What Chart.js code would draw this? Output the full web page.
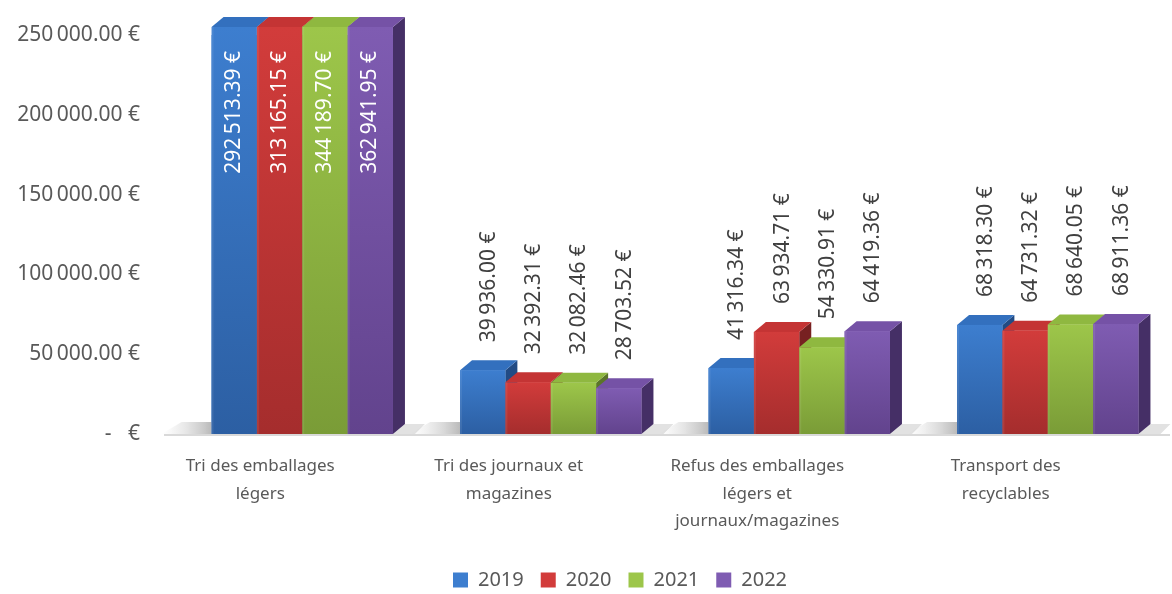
<!DOCTYPE html>
<html>
<head>
<meta charset="utf-8">
<script src="https://cdn.jsdelivr.net/npm/chart.js@4"></script>
<style>
html, body { margin: 0; background: #fff; }
#wrap { width: 1172px; height: 594px; }
</style>
</head>
<body>
<div id="wrap"><canvas id="c"></canvas></div>
<script>
const categories = [
	['Tri des emballages', 'légers'],
	['Tri des journaux et', 'magazines'],
	['Refus des emballages', 'légers et', 'journaux/magazines'],
	['Transport des', 'recyclables']
];
const years = ['2019', '2020', '2021', '2022'];
const v2019 = [292513.39, 39936.00, 41316.34, 68318.30];
const v2020 = [313165.15, 32392.31, 63934.71, 64731.32];
const v2021 = [344189.70, 32082.46, 54330.91, 68640.05];
const v2022 = [362941.95, 28703.52, 64419.36, 68911.36];
const yTicks = [0, 50000, 100000, 150000, 200000, 250000];

// front (top / bottom of gradient), top face, side face
const colors = [
	{ hi: '#3D7ECF', lo: '#2C5FA3', top: '#3370BE', side: '#224B84' },
	{ hi: '#D23C3B', lo: '#A52D2D', top: '#C43434', side: '#772121' },
	{ hi: '#9DC64A', lo: '#7A9C37', top: '#8FB840', side: '#5B7529' },
	{ hi: '#7F5CB2', lo: '#62438D', top: '#7552A6', side: '#452F66' }
];
const DX = 12, DY = 10;

function euro(v) {
	const parts = v.toFixed(2).split('.');
	return parts[0].replace(/\B(?=(\d{3})+(?!\d))/g, '\u202F') + '.' + parts[1] + ' €';
}

function poly(ctx, pts, fill) {
	ctx.beginPath();
	ctx.moveTo(pts[0][0], pts[0][1]);
	for (let k = 1; k < pts.length; k++) ctx.lineTo(pts[k][0], pts[k][1]);
	ctx.closePath();
	ctx.fillStyle = fill;
	ctx.fill();
}

const bars3d = {
	id: 'bars3d',
	afterLayout(chart) {
		// legend sits a bit right of the canvas centre in the original
		chart.legend.left += 34;
		chart.legend.right += 34;
	},
	beforeDatasetsDraw(chart) {
		const ctx = chart.ctx, area = chart.chartArea;
		const base = chart.scales.y.getPixelForValue(0);
		ctx.save();
		ctx.strokeStyle = '#D9D9D9';
		ctx.lineWidth = 2;
		ctx.beginPath();
		ctx.moveTo(area.left - 14, base + 1);
		ctx.lineTo(1170, base + 1);
		ctx.stroke();
		ctx.restore();
	},
	afterDatasetsDraw(chart) {
		const ctx = chart.ctx, area = chart.chartArea;
		const base = chart.scales.y.getPixelForValue(0);
		const n = chart.data.datasets.length;
		ctx.save();
		// floor shadows
		chart.getDatasetMeta(0).data.forEach((el, j) => {
			const last = chart.getDatasetMeta(n - 1).data[j];
			const x0 = el.x - el.width / 2;
			const x1 = last.x + last.width / 2 + DX;
			const g = ctx.createLinearGradient(x0 - 50, 0, x0, 0);
			g.addColorStop(0, 'rgba(200,200,200,0)');
			g.addColorStop(1, 'rgba(140,140,140,0.6)');
			poly(ctx, [[x0 - 50, base], [x0 - 30, base - 12], [x0, base - 12], [x0, base]], g);
			poly(ctx, [[x1 - DX, base], [x1, base - DY], [x1 + 20, base - DY], [x1 + 10, base]], 'rgba(190,190,190,0.45)');
		});
		chart.data.datasets.forEach((ds, i) => {
			const c = colors[i];
			chart.getDatasetMeta(i).data.forEach(el => {
				const x0 = el.x - el.width / 2, x1 = el.x + el.width / 2;
				const yt = Math.max(el.y, area.top - 8);
				poly(ctx, [[x1, base], [x1 + DX, base - DY], [x1 + DX, yt - DY], [x1, yt]], c.side);
				poly(ctx, [[x0, yt], [x0 + DX, yt - DY], [x1 + DX, yt - DY], [x1, yt]], c.top);
				const g = ctx.createLinearGradient(0, yt, 0, base);
				g.addColorStop(0, c.hi);
				g.addColorStop(1, c.lo);
				ctx.fillStyle = g;
				ctx.fillRect(x0, yt, x1 - x0, base - yt);
				ctx.fillStyle = 'rgba(255,255,255,0.08)';
				ctx.fillRect(x0, yt, 2, base - yt);
			});
		});
		ctx.restore();
	},
	afterDraw(chart) {
		const ctx = chart.ctx, area = chart.chartArea;
		const yMax = chart.scales.y.max;
		ctx.save();
		ctx.font = '21px "Noto Sans"';
		ctx.textBaseline = 'middle';
		chart.data.datasets.forEach((ds, i) => {
			chart.getDatasetMeta(i).data.forEach((el, j) => {
				const v = ds.data[j];
				ctx.save();
				if (v > yMax) {
					ctx.fillStyle = '#FFFFFF';
					ctx.translate(el.x, area.top + 16);
					ctx.rotate(-Math.PI / 2);
					ctx.textAlign = 'right';
				} else {
					ctx.fillStyle = '#404040';
					ctx.translate(el.x + 6, el.y - 28);
					ctx.rotate(-Math.PI / 2);
					ctx.textAlign = 'left';
				}
				ctx.fillText(euro(v), 0, 0);
				ctx.restore();
			});
		});
		ctx.restore();
	}
};

const seriesValues = [v2019, v2020, v2021, v2022];
const data = {
	labels: categories,
	datasets: years.map((y, i) => ({
		label: y,
		data: seriesValues[i],
		backgroundColor: colors[i].hi,
		borderColor: colors[i].lo,
		borderWidth: 0,
		categoryPercentage: 0.73,
		barPercentage: 1.0
	}))
};

const config = {
	type: 'bar',
	data: data,
	plugins: [bars3d],
	options: {
		responsive: true,
		maintainAspectRatio: false,
		animation: false,
		layout: { padding: { top: 35, right: 0, left: 0, bottom: -6 } },
		plugins: {
			tooltip: { enabled: false },
			legend: {
				position: 'bottom',
				labels: {
					boxWidth: 15,
					boxHeight: 15,
					padding: 17,
					color: '#595959',
					font: { family: 'Noto Sans', size: 20 }
				}
			}
		},
		scales: {
			x: {
				grid: { display: false, drawTicks: false },
				border: { display: false },
				ticks: {
					color: '#595959',
					font: { family: 'Noto Sans', size: 17, lineHeight: 1.6 },
					labelOffset: -42,
					padding: 19,
					autoSkip: false,
					maxRotation: 0
				},
				afterFit(scale) { scale.height = 119; }
			},
			y: {
				min: 0,
				max: 250000,
				grid: { display: false, drawTicks: false },
				border: { display: false },
				afterBuildTicks(scale) { scale.ticks = yTicks.map(v => ({ value: v })); },
				afterFit(scale) {
					scale.width = 178;
					scale.paddingTop = 0;
					scale.paddingBottom = 0;
				},
				ticks: {
					color: '#595959',
					padding: 38,
					font: { family: 'Noto Sans', size: 21 },
					callback: v => v === 0 ? '-   €' : euro(v)
				}
			}
		}
	}
};

let ctx = document.getElementById('c').getContext('2d');
new Chart(ctx, config);
</script>
</body>
</html>
